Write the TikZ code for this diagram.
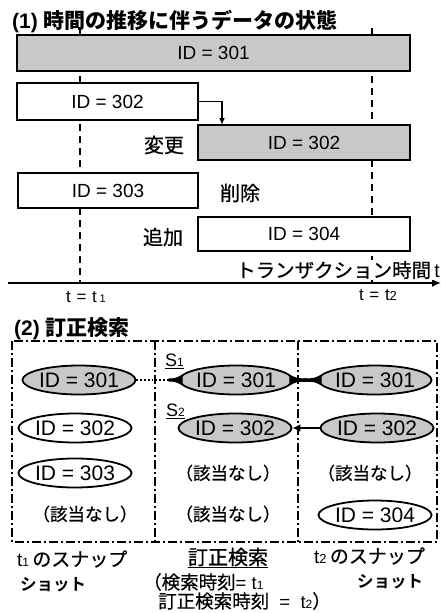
\documentclass[tikz,border=0pt]{standalone}
\usepackage{fontspec}
\setmainfont{Liberation Sans}
\newfontfamily\jp{Noto Sans CJK JP}[FakeBold=0.6]
\newfontfamily\jpb{Noto Sans CJK JP Bold}
\usetikzlibrary{arrows.meta,shapes.geometric}
\definecolor{boxgray}{RGB}{200,200,200}
\newcommand\sm[2][11]{{\fontsize{#1}{#1}\selectfont #2}}
\newcommand\myflare[3]{% anchor, direction (1 right / -1 left), length
  \fill ([shift={(-4*#2,-5.6)}]#1) .. controls ([shift={(3*#2,-1.8)}]#1) .. ([shift={(#3*#2,-1.5)}]#1)
     -- ([shift={(#3*#2,1.5)}]#1) .. controls ([shift={(3*#2,1.8)}]#1) .. ([shift={(-4*#2,5.6)}]#1) -- cycle;}
\tikzset{
  fs/.style={font=\fontsize{#1}{#1}\selectfont},
  bar/.style={draw, line width=1.8pt, inner sep=0pt, fs=19},
  ell/.style={ellipse, draw, line width=1.8pt, inner sep=0pt, minimum height=29pt, fs=21},
  guide/.style={line width=1.8pt, dash pattern=on 7pt off 5pt},
  frame/.style={line width=1.5pt, dash pattern=on 9pt off 3pt on 2pt off 3pt},
  lbl/.style={inner sep=0pt, fs=20},
  ttl/.style={inner sep=0pt, anchor=west, font=\fontsize{21}{21}\selectfont\bfseries},
}
\begin{document}
\begin{tikzpicture}[x=1pt,y=-1pt]
\useasboundingbox (0,0) rectangle (441,613);
% ---------- part 1
\node[ttl] (t1title) at (12,21) {(1) {\jpb 時間の推移に伴うデータの状態}};
\coordinate (g1top) at (80,28);
\coordinate (g1bot) at (80,283);
\coordinate (g2top) at (372,28);
\coordinate (g2bot) at (372,283);
\draw[guide] (g1top) -- (g1bot);
\draw[guide] (g2top) -- (g2bot);
\node[bar, fill=boxgray, minimum width=393pt, minimum height=36pt] (b301) at (213.5,53) {ID = 301};
\node[bar, fill=white, minimum width=181pt, minimum height=37pt] (b302w) at (107.5,101.5) {ID = 302};
\node[bar, fill=boxgray, minimum width=212pt, minimum height=35pt] (b302g) at (304,142.5) {ID = 302};
\node[bar, fill=white, minimum width=180pt, minimum height=35pt] (b303) at (108,190.5) {ID = 303};
\node[bar, fill=white, minimum width=212pt, minimum height=34pt] (b304) at (304,234) {ID = 304};
\coordinate (chg) at (222,125);
\draw[line width=1.8pt, -{Latex[length=7pt,width=6pt]}] (b302w.east) -| (chg);
\node[lbl] (lchg) at (164,145) {\jp 変更};
\node[lbl] (ldel) at (240,193) {\jp 削除};
\node[lbl] (ladd) at (163,237) {\jp 追加};
\coordinate (ax0) at (8,283);
\coordinate (ax1) at (441,283);
\draw[line width=2pt, -{Latex[length=9pt,width=8pt]}] (ax0) -- (ax1);
\node[lbl, anchor=east, fill=white, inner sep=1pt, fs=19.5] (ltime) at (441,270) {\jp トランザクション時間\,\rmfamily t};
\node[lbl, fs=17] (lt1) at (86,297) {t\,\,=\,\,t\,\sm[11]{1}};
\node[lbl, fs=17] (lt2) at (378,295) {t\,\,=\,\,t\sm[13]{2}};
% ---------- part 2
\node[ttl] (t2title) at (14,329) {(2) {\jpb 訂正検索}};
\draw[frame] (12,341) rectangle (437,542);
\coordinate (d1t) at (155,341); \coordinate (d1b) at (155,542);
\coordinate (d2t) at (298,341); \coordinate (d2b) at (298,542);
\draw[frame] (d1t) -- (d1b);
\draw[frame] (d2t) -- (d2b);
\node[ell, fill=boxgray, minimum width=98pt] (L1) at (79,380) {ID = 301};
\node[ell, fill=boxgray, minimum width=107pt] (C1) at (236,380) {ID = 301};
\node[ell, fill=boxgray, minimum width=101pt] (R1) at (375,380) {ID = 301};
\node[ell, fill=white, minimum width=100pt] (L2) at (75,428) {ID = 302};
\node[ell, fill=boxgray, minimum width=104pt] (C2) at (235,428) {ID = 302};
\node[ell, fill=boxgray, minimum width=100pt] (R2) at (377,428) {ID = 302};
\node[ell, fill=white, minimum width=100pt] (L3) at (75,473) {ID = 303};
\node[ell, fill=white, minimum width=104pt] (R4) at (375,515) {ID = 304};
\node[lbl, fs=17.5] (C3) at (228,473) {\jp （該当なし）};
\node[lbl, fs=17.5] (R3) at (370,473) {\jp （該当なし）};
\node[lbl, fs=17.5] (L4) at (85,514) {\jp （該当なし）};
\node[lbl, fs=17.5] (C4) at (228,514) {\jp （該当なし）};
\draw[line width=1.8pt, dotted] (L1) -- (C1);
\myflare{C1.west}{-1}{10}
\draw[line width=3pt] (C1) -- (R1);
\myflare{C1.east}{1}{14}
\myflare{R1.west}{-1}{14}
\draw[line width=2pt, -{Latex[length=8pt,width=8pt]}] (R2) -- (C2);
\node[lbl, anchor=west, fs=18] (s1) at (165,361) {\underline{S\sm[12]{1}}};
\node[lbl, anchor=west, fs=18] (s2) at (166,411) {\underline{S\sm[12]{2}}};
% bottom captions
\node[lbl, anchor=west, fs=19] (c1a) at (17,559) {t\sm[12]{1}\,{\jp のスナップ}};
\node[lbl, anchor=west, font=\jpb\fontsize{16.5}{16.5}\selectfont] (c1b) at (20,585) {ショット};
\node[lbl, fs=20] (c2a) at (228,558) {\underline{\jp 訂正検索}};
\node[lbl, anchor=west, fs=18.5] (c2b) at (143,582) {{\jp （検索時刻}= t\sm[12]{1}};
\node[lbl, anchor=west, fs=18.5] (c2c) at (158,601) {{\jp 訂正検索時刻}\ \ =\ \ t\sm[12]{2}{\jp ）}};
\node[lbl, anchor=west, fs=19] (c3a) at (314,556) {t\sm[13]{2}\,{\jp のスナップ}};
\node[lbl, anchor=west, font=\jpb\fontsize{16.5}{16.5}\selectfont] (c3b) at (357,582) {ショット};
\end{tikzpicture}
\end{document}
